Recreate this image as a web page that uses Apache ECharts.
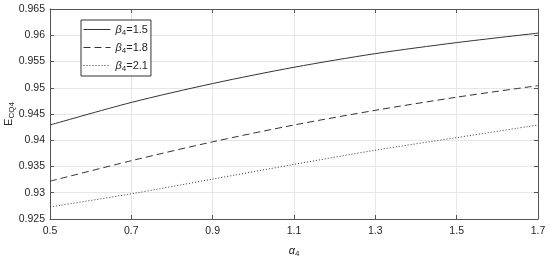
<!DOCTYPE html>
<html>
<head>
<meta charset="utf-8">
<script src="https://cdn.jsdelivr.net/npm/echarts@6/dist/echarts.min.js"></script>
<style>
  html, body { margin: 0; padding: 0; background: #fff; }
  #main { width: 550px; height: 257px; }
</style>
</head>
<body>
<div id="main"></div>
<script>
// alpha4 values on the x axis
const alpha = [0.5, 0.7, 0.9, 1.1, 1.3, 1.5, 1.7];
// E_CQ4 for each beta4
const beta15 = [0.9429, 0.9472, 0.9508, 0.9539, 0.9565, 0.9586, 0.9604];
const beta18 = [0.9322, 0.9361, 0.9397, 0.9429, 0.9457, 0.9482, 0.9504];
const beta21 = [0.9273, 0.9298, 0.9326, 0.9354, 0.9381, 0.9405, 0.9429];
const seriesNames = ['β4=1.5', 'β4=1.8', 'β4=2.1'];
const seriesData = [beta15, beta18, beta21];
const dashTypes = ['solid', [7, 4], [1, 2]];

const font = 'Liberation Sans, Arial, sans-serif';
const textColor = '#262626';
const axisColor = '#555';
const gridColor = '#e6e6e6';

const subRich = {
  g: { fontFamily: font, fontSize: 11, fontStyle: 'italic', color: textColor },
  n: { fontFamily: font, fontSize: 11, color: textColor },
  s: { fontFamily: font, fontSize: 8, color: textColor, padding: [7, 0, 0, 0] }
};

function pairs(ys) {
  return alpha.map((x, i) => [x, ys[i]]);
}

let chartDom = document.getElementById('main');
let myChart = echarts.init(chartDom);
let option;

option = {
  animation: false,
  grid: { left: 50, right: 12, top: 9, bottom: 38, containLabel: false, outerBoundsMode: 'none' },
  legend: {
    orient: 'vertical',
    left: 81,
    top: 20,
    padding: [4, 3, 3, 2],
    itemGap: 5,
    itemWidth: 27,
    itemHeight: 12,
    borderColor: '#333',
    borderWidth: 1,
    borderRadius: 0,
    backgroundColor: '#fff',
    data: seriesNames,
    itemStyle: { color: 'transparent', borderWidth: 0 },
    lineStyle: { width: 1 },
    formatter: function (name) {
      return '{g|β}{s|4}{n|' + name.slice(2) + '}';
    },
    textStyle: { rich: subRich }
  },
  xAxis: [
    {
      type: 'value',
      min: 0.5,
      max: 1.7,
      interval: 0.2,
      position: 'bottom',
      name: '{g|α}{s|4}',
      nameLocation: 'middle',
      nameGap: 24,
      nameMoveOverlap: false,
      nameTextStyle: { rich: subRich },
      axisLine: { lineStyle: { color: axisColor } },
      axisTick: { inside: true, length: 4, lineStyle: { color: axisColor } },
      axisLabel: {
        color: textColor, fontFamily: font, fontSize: 10.5, margin: 7,
        formatter: v => v.toFixed(1)
      },
      splitLine: { show: true, lineStyle: { color: gridColor } }
    },
    {
      type: 'value',
      min: 0.5,
      max: 1.7,
      interval: 0.2,
      position: 'top',
      axisLine: { lineStyle: { color: axisColor } },
      axisTick: { inside: true, length: 4, lineStyle: { color: axisColor } },
      axisLabel: { show: false },
      splitLine: { show: false }
    }
  ],
  yAxis: [
    {
      type: 'value',
      min: 0.925,
      max: 0.965,
      interval: 0.005,
      position: 'left',
      name: '{n|E}{s|CQ4}',
      nameLocation: 'middle',
      nameRotate: 90,
      nameGap: 34,
      nameMoveOverlap: false,
      nameTextStyle: { rich: subRich },
      axisLine: { show: true, lineStyle: { color: axisColor } },
      axisTick: { show: true, inside: true, length: 4, lineStyle: { color: axisColor } },
      axisLabel: {
        color: textColor, fontFamily: font, fontSize: 10.5, margin: 5,
        formatter: v => String(parseFloat(v.toFixed(3)))
      },
      splitLine: { show: true, lineStyle: { color: gridColor } }
    },
    {
      type: 'value',
      min: 0.925,
      max: 0.965,
      interval: 0.005,
      position: 'right',
      axisLine: { show: true, lineStyle: { color: axisColor } },
      axisTick: { show: true, inside: true, length: 4, lineStyle: { color: axisColor } },
      axisLabel: { show: false },
      splitLine: { show: false }
    }
  ],
  series: seriesNames.map((name, i) => ({
    name: name,
    type: 'line',
    xAxisIndex: 0,
    yAxisIndex: 0,
    data: pairs(seriesData[i]),
    smooth: 0.3,
    symbol: 'none',
    lineStyle: { color: '#333', width: 1, type: dashTypes[i] },
    itemStyle: { color: '#333' }
  }))
};

option && myChart.setOption(option);
</script>
</body>
</html>
